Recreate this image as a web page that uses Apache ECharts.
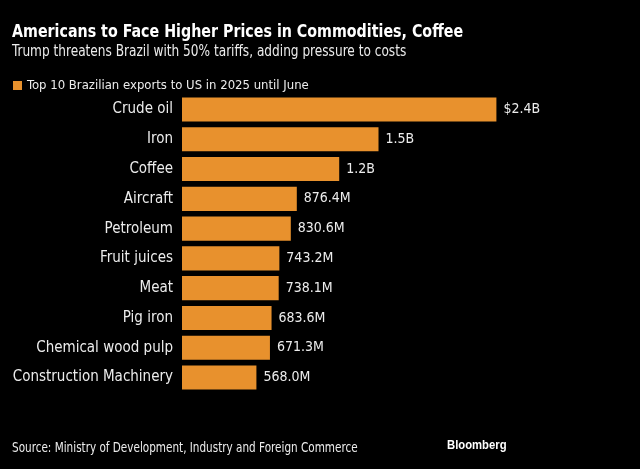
<!DOCTYPE html>
<html><head><meta charset="utf-8">
<script src="https://cdn.jsdelivr.net/npm/echarts@6/dist/echarts.min.js"></script>
<style>html,body{margin:0;padding:0;background:#000;}#c{width:640px;height:469px;}</style>
</head><body><div id="c"></div>
<script>
const categories = ["Crude oil","Iron","Coffee","Aircraft","Petroleum","Fruit juices","Meat","Pig iron","Chemical wood pulp","Construction Machinery"];
const valuesM = [2400, 1500, 1200, 876.4, 830.6, 743.2, 738.1, 683.6, 671.3, 568.0];
const valueLabels = ["$2.4B","1.5B","1.2B","876.4M","830.6M","743.2M","738.1M","683.6M","671.3M","568.0M"];
const seriesName = "Top 10 Brazilian exports to US in 2025 until June";
const titleText = "Americans to Face Higher Prices in Commodities, Coffee";
const subtitleText = "Trump threatens Brazil with 50% tariffs, adding pressure to costs";
const sourceText = "Source: Ministry of Development, Industry and Foreign Commerce";
const brandText = "Bloomberg";

const FONT = "'DejaVu Sans Condensed', 'DejaVu Sans', sans-serif";
const ORANGE = "#E8912D";
const TXT = "#ececec";
const chart = echarts.init(document.getElementById('c'), null, {renderer:'canvas'});

function txt(text, x, y, size, weight, color, sx, family) {
  return {type:'text', x:x, y:y, scaleX:sx, silent:true,
    style:{text:text, fill:color, font: weight + ' ' + size + 'px ' + (family||FONT),
      verticalAlign:'middle', align:'left'}};
}

chart.setOption({
  backgroundColor: '#000',
  animation: false,
  graphic: [
    txt(titleText, 12, 32, 18, 'bold', '#fff', 0.88),
    txt(subtitleText, 12, 52.5, 15, 'normal', TXT, 0.9),
    txt(sourceText, 12, 448, 13.5, 'normal', TXT, 0.86),
    txt(brandText, 447, 445.5, 12, 'bold', '#fff', 0.94, "'Liberation Sans', Arial, sans-serif")
  ],
  legend: {
    left: 8, top: 74, icon: 'rect', itemWidth: 9, itemHeight: 9, itemGap: 5,
    textStyle: {color: TXT, fontFamily: FONT, fontSize: 13},
    data: [seriesName]
  },
  grid: {left: 182, right: 65, top: 94.6, bottom: 469-392.4, containLabel: false},
  xAxis: {type:'value', min:0, max:3000, show:false},
  yAxis: {type:'category', data: categories, inverse: true,
    axisLine:{show:false}, axisTick:{show:false},
    axisLabel:{color: TXT, fontFamily: FONT, fontSize: 15, margin: 9}},
  series: [{
    name: seriesName, type:'bar', data: valuesM, barCategoryGap:'19%',
    itemStyle:{color: ORANGE},
    label:{show:true, position:'right', distance:7, color: TXT, fontFamily: FONT, fontSize:14,
      formatter: p => valueLabels[p.dataIndex]}
  }]
});
</script></body></html>
